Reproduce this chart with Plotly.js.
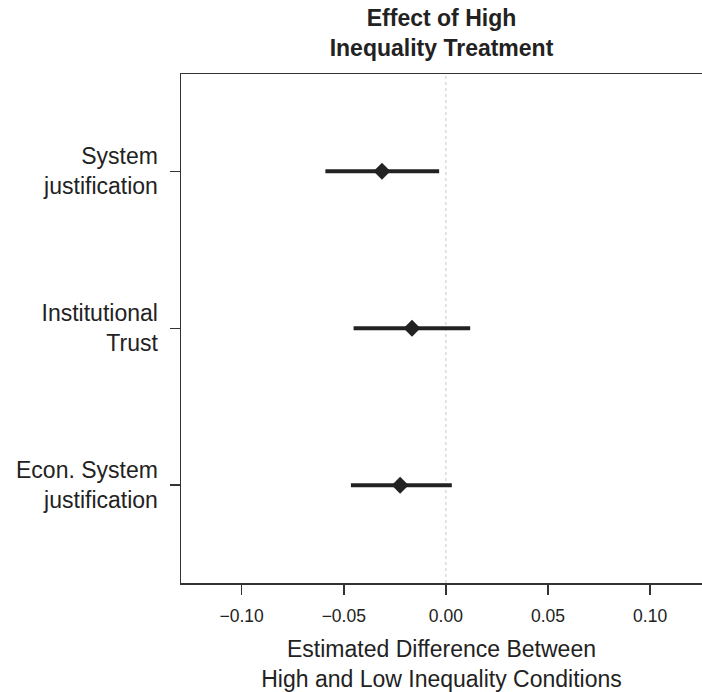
<!DOCTYPE html>
<html>
<head>
<meta charset="utf-8">
<script src="https://cdn.plot.ly/plotly-3.0.1.min.js"></script>
<style>html,body{margin:0;padding:0;overflow:hidden;background:#fff;}</style>
</head>
<body>
<div id="chart" style="width:702px;height:692px;"></div>
<script>
const categories = ['Econ. System<br>justification', 'Institutional<br>Trust', 'System<br>justification'];
const estimates = [-0.0224, -0.0166, -0.0313];
const lower = [-0.0465, -0.0452, -0.0590];
const upper = [0.0029, 0.0119, -0.0033];
const xTickVals = [-0.10, -0.05, 0.00, 0.05, 0.10];
const xTickText = ['\u22120.10', '\u22120.05', '0.00', '0.05', '0.10'];

const plus = estimates.map((e, i) => upper[i] - e);
const minus = estimates.map((e, i) => e - lower[i]);

const FONT = 'Liberation Sans, Arial, Helvetica, sans-serif';
const INK = '#222222';

const trace = {
  type: 'scatter',
  mode: 'markers',
  x: estimates,
  y: categories,
  marker: {symbol: 'diamond', size: 13, color: INK},
  error_x: {type: 'data', symmetric: false, array: plus, arrayminus: minus,
            thickness: 4, width: 0, color: INK},
  hoverinfo: 'x+y',
  showlegend: false
};

const layout = {
  width: 702, height: 692,
  margin: {l: 181, r: 0, t: 74, b: 109, pad: 0},
  paper_bgcolor: '#ffffff', plot_bgcolor: '#ffffff',
  font: {family: FONT, color: INK},
  title: {
    text: '<b>Effect of High<br>Inequality Treatment</b>',
    font: {family: FONT, size: 23, color: INK},
    x: 0.5, xref: 'paper', xanchor: 'center',
    y: 0.962, yref: 'container', yanchor: 'top'
  },
  xaxis: {
    range: [-0.1297, 0.1254],
    tickvals: xTickVals, ticktext: xTickText,
    ticks: 'outside', ticklen: 10, tickwidth: 1.5, tickcolor: '#333',
    showline: true, linecolor: '#333', linewidth: 1.5, mirror: true,
    showgrid: false, zeroline: false,
    tickfont: {family: FONT, size: 17.5, color: INK},
    ticklabelstandoff: 6,
    title: {text: 'Estimated Difference Between<br>High and Low Inequality Conditions',
            font: {family: FONT, size: 23, color: INK}, standoff: 20}
  },
  yaxis: {
    type: 'category',
    range: [-0.623, 2.62],
    ticks: 'outside', ticklen: 10, tickwidth: 1.5, tickcolor: '#333',
    showline: true, linecolor: '#333', linewidth: 1.5, mirror: false,
    showgrid: false, zeroline: false,
    tickfont: {family: FONT, size: 23, color: INK},
    ticklabelstandoff: 7
  },
  shapes: [{
    type: 'line', xref: 'x', yref: 'paper', x0: 0, x1: 0, y0: 0, y1: 1,
    line: {color: '#c8c8c8', width: 1, dash: 'dot'}, layer: 'below'
  }]
};

Plotly.newPlot('chart', [trace], layout, {displayModeBar: false, staticPlot: true});
</script>
</body>
</html>
